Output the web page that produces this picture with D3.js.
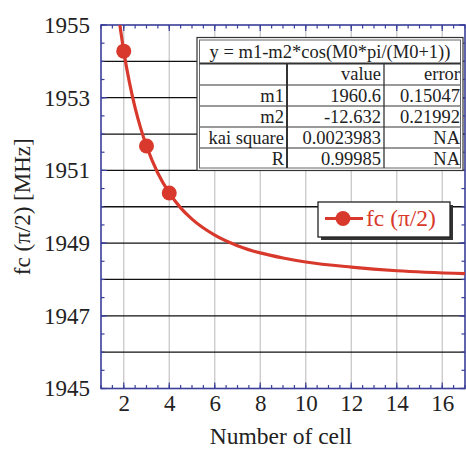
<!DOCTYPE html>
<html><head><meta charset="utf-8">
<script src="https://cdn.jsdelivr.net/npm/d3@7/dist/d3.min.js"></script>
<style>body{margin:0;background:#fff}svg{display:block}</style>
</head><body><svg id="c" width="466" height="450"></svg>
<script>
// measured points
const cells = [2, 3, 4];
const freq = [1954.28, 1951.67, 1950.38];
// fit curve samples
const fitX = [1.83, 2, 2.25, 2.5, 2.75, 3, 3.5, 4, 4.5, 5, 6, 7, 8, 9, 10, 12, 14, 17];
const fitY = [1955.0, 1954.28, 1953.42, 1952.72, 1952.15, 1951.67, 1950.92, 1950.38, 1949.97, 1949.66, 1949.22, 1948.93, 1948.73, 1948.59, 1948.48, 1948.34, 1948.24, 1948.16];
const xTicks = [2, 4, 6, 8, 10, 12, 14, 16];
const yTicks = [1945, 1947, 1949, 1951, 1953, 1955];
const yGrid = [1946, 1947, 1948, 1949, 1950, 1951, 1952, 1953, 1954];
const tableTitle = "y = m1-m2*cos(M0*pi/(M0+1))";
const tableHeader = ["", "value", "error"];
const tableRows = [["m1", "1960.6", "0.15047"], ["m2", "-12.632", "0.21992"], ["kai square", "0.0023983", "NA"], ["R", "0.99985", "NA"]];
const legendLabel = "fc (π/2)";

const FONT = '"Liberation Serif"';
const svg = d3.select("#c");
const L = 101, R = 465, T = 25, B = 388.5;
const x = d3.scaleLinear().domain([1, 17]).range([L, R]);
const y = d3.scaleLinear().domain([1945, 1955]).range([B, T]);
const red = "#d8392c", blue = "#3a3f9a";

// vertical gray grid
svg.append("g").selectAll("line").data(xTicks).join("line")
  .attr("x1", d => x(d)).attr("x2", d => x(d)).attr("y1", T).attr("y2", B)
  .attr("stroke", "#c8c8c8").attr("stroke-width", 1.3);
// horizontal black grid
svg.append("g").selectAll("line").data(yGrid).join("line")
  .attr("x1", L).attr("x2", R).attr("y1", d => y(d)).attr("y2", d => y(d))
  .attr("stroke", "#111").attr("stroke-width", 1.3);

// axes with inward ticks
const minorX = d3.range(1, 17.01, 0.5);
const minorY = d3.range(1945, 1955.01, 0.5);
const ax = svg.append("g");
function ticks(vals, len, orient) {
  const h = orient === "b" || orient === "t";
  ax.append("g").selectAll("line").data(vals).join("line")
    .attr("x1", d => h ? x(d) : (orient === "l" ? L : R))
    .attr("x2", d => h ? x(d) : (orient === "l" ? L + len : R - len))
    .attr("y1", d => !h ? y(d) : (orient === "b" ? B : T))
    .attr("y2", d => !h ? y(d) : (orient === "b" ? B - len : T + len))
    .attr("stroke", blue).attr("stroke-width", 1.2);
}
["b", "t", "l", "r"].forEach(o => {
  const h = o === "b" || o === "t";
  ticks(h ? minorX : minorY, 3.5, o);
  ticks(h ? xTicks : yTicks, 6, o);
});
ax.append("rect").attr("x", L).attr("y", T).attr("width", R - L).attr("height", B - T)
  .attr("fill", "none").attr("stroke", blue).attr("stroke-width", 1.6);

// tick labels via d3 axes
const xa = svg.append("g").attr("transform", `translate(0,${B})`)
  .call(d3.axisBottom(x).tickValues(xTicks).tickSize(0).tickPadding(6).tickFormat(d3.format("d")));
xa.select(".domain").remove();
xa.attr("font-family", null).attr("font-size", null);
xa.selectAll("text").style("font-family", FONT).style("font-size", "23px").attr("fill", "#222");
const ya = svg.append("g").attr("transform", `translate(${L},0)`)
  .call(d3.axisLeft(y).tickValues(yTicks).tickSize(0).tickPadding(11).tickFormat(d3.format("d")));
ya.select(".domain").remove();
ya.attr("font-family", null).attr("font-size", null);
ya.selectAll("text").style("font-family", FONT).style("font-size", "23px").attr("fill", "#222");

// axis titles
svg.append("text").attr("x", 281).attr("y", 444).attr("text-anchor", "middle")
  .style("font-family", FONT).style("font-size", "23.5px").attr("fill", "#222").text("Number of cell");
svg.append("text").attr("transform", `translate(30,${(T + B) / 2}) rotate(-90)`).attr("text-anchor", "middle")
  .style("font-family", FONT).style("font-size", "23px").attr("fill", "#222").text("fc (π/2) [MHz]");

// clip
svg.append("clipPath").attr("id", "clip").append("rect").attr("x", L).attr("y", T).attr("width", R - L).attr("height", B - T);
const plot = svg.append("g").attr("clip-path", "url(#clip)");
const line = d3.line().x(d => x(d[0])).y(d => y(d[1])).curve(d3.curveMonotoneX);
plot.append("path").datum(fitX.map((v, i) => [v, fitY[i]])).attr("d", line)
  .attr("fill", "none").attr("stroke", red).attr("stroke-width", 3.2);
plot.selectAll("circle").data(cells).join("circle")
  .attr("cx", d => x(d)).attr("cy", (d, i) => y(freq[i])).attr("r", 7.5).attr("fill", red);

// table
const tx = 197, tw = 266, ty = 37.5;
const rowH = [23.5, 21.5, 21, 21, 21, 21];
const colX = [tx, 287, 384, tx + tw];
const tbl = svg.append("g");
const th = d3.sum(rowH) + 4;
tbl.append("rect").attr("x", tx).attr("y", ty).attr("width", tw).attr("height", th).attr("fill", "#fff").attr("stroke", "#333").attr("stroke-width", 1.2);
tbl.append("rect").attr("x", tx + 2.5).attr("y", ty + 2.5).attr("width", tw - 5).attr("height", th - 5).attr("fill", "none").attr("stroke", "#666").attr("stroke-width", 1);
let cy = ty + 2.5;
const rowsY = [];
rowH.forEach(h => { rowsY.push(cy); cy += h; });
rowsY.slice(1).forEach((ry, i) => {
  tbl.append("line").attr("x1", tx + 2.5).attr("x2", tx + tw - 2.5).attr("y1", ry).attr("y2", ry)
    .attr("stroke", i === 0 ? "#333" : "#777").attr("stroke-width", i === 0 ? 1.8 : 1.6);
});
[colX[1], colX[2]].forEach((cx, i) => {
  tbl.append("line").attr("x1", cx).attr("x2", cx).attr("y1", rowsY[1]).attr("y2", ty + th - 2.5)
    .attr("stroke", "#333").attr("stroke-width", i === 0 ? 2 : 1.3);
});
tbl.append("text").attr("x", tx + tw / 2).attr("y", rowsY[0] + 17.5).attr("text-anchor", "middle")
  .style("font-family", FONT).style("font-size", "18.5px").attr("fill", "#222").text(tableTitle);
const allRows = [tableHeader].concat(tableRows);
allRows.forEach((r, ri) => {
  r.forEach((c, ci) => {
    tbl.append("text").attr("x", colX[ci + 1] - 3).attr("y", rowsY[ri + 1] + 16.5).attr("text-anchor", "end")
      .style("font-family", FONT).style("font-size", "18.5px").attr("fill", "#222").text(c);
  });
});

// legend
const lg = svg.append("g");
lg.append("rect").attr("x", 321).attr("y", 205).attr("width", 132).attr("height", 35).attr("fill", "#333");
lg.append("rect").attr("x", 318).attr("y", 202).attr("width", 132).attr("height", 35).attr("fill", "#fff").attr("stroke", "#222").attr("stroke-width", 1.3);
lg.append("line").attr("x1", 325).attr("x2", 363).attr("y1", 218.5).attr("y2", 218.5).attr("stroke", red).attr("stroke-width", 3);
lg.append("circle").attr("cx", 343).attr("cy", 218.5).attr("r", 7.5).attr("fill", red);
lg.append("text").attr("x", 366).attr("y", 226).style("font-family", FONT).style("font-size", "23.5px").attr("fill", red).text(legendLabel);
</script></body></html>
